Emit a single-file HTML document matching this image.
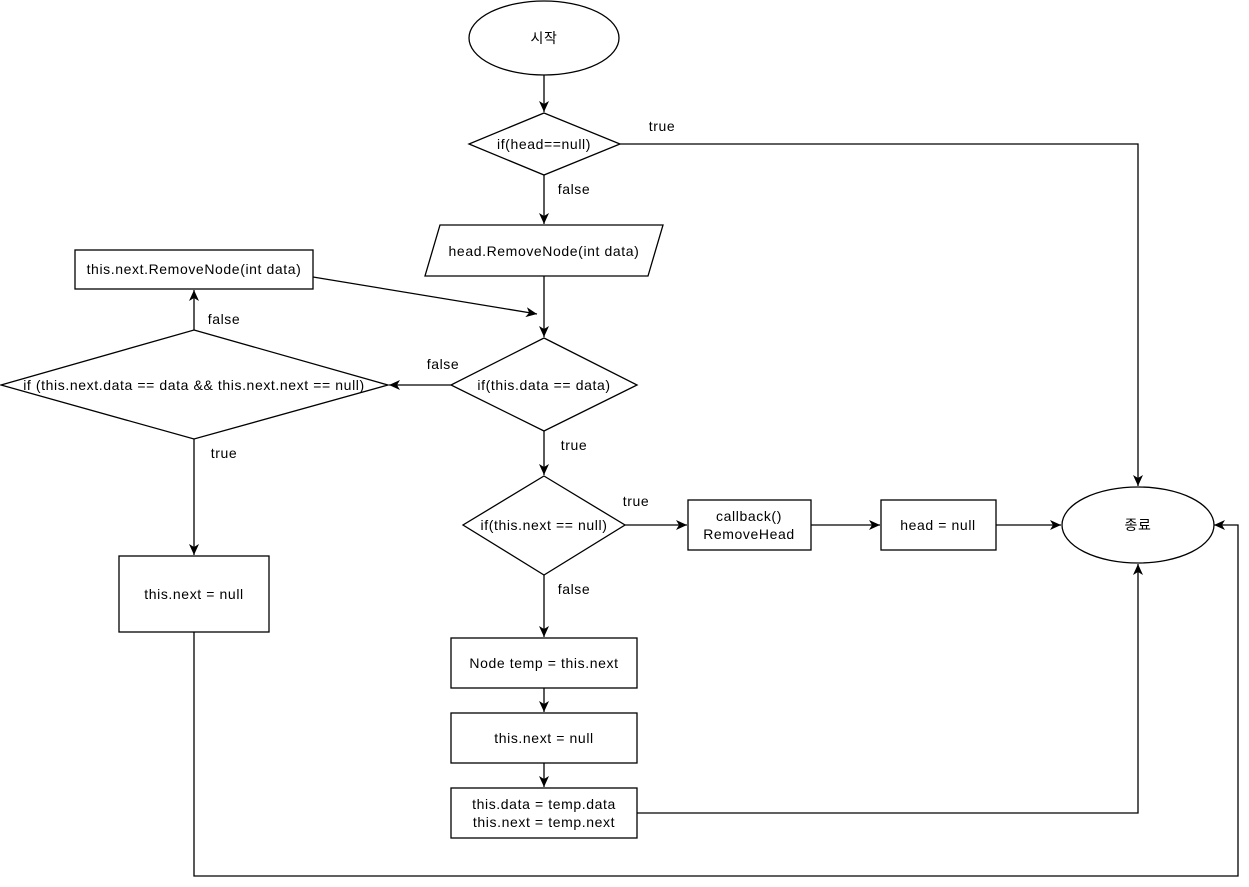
<!DOCTYPE html>
<html><head><meta charset="utf-8"><style>
html,body{margin:0;padding:0;background:#fff;}
svg{display:block;}
text{font-family:"Liberation Sans","Noto Sans CJK KR",sans-serif;font-size:14px;letter-spacing:0.6px;fill:#000;}
</style></head><body>
<svg width="1249" height="887" viewBox="0 0 1249 887" xmlns="http://www.w3.org/2000/svg">
<defs><marker id="a" markerWidth="12" markerHeight="12" refX="11" refY="6" orient="auto" markerUnits="userSpaceOnUse"><path d="M0,1 L11,6 L0,11 L3,6 Z" fill="#000"/></marker></defs>
<g fill="#fff" stroke="#000" stroke-width="1.3">
<ellipse cx="544" cy="38" rx="75" ry="37"/>
<polygon points="544,113 620,144 544,175 469,144"/>
<polygon points="440,225 663,225 648,276 425,276"/>
<rect x="75" y="250" width="238" height="39"/>
<polygon points="544,338 637,385 544,431 451,385"/>
<polygon points="194,330 388,385 194,439 1,385"/>
<rect x="119" y="556" width="150" height="76"/>
<polygon points="544,476 625,525 544,575 463,525"/>
<rect x="688" y="500" width="123" height="50"/>
<rect x="881" y="500" width="115" height="50"/>
<ellipse cx="1138" cy="525" rx="76" ry="38"/>
<rect x="451" y="638" width="186" height="50"/>
<rect x="451" y="713" width="186" height="50"/>
<rect x="451" y="788" width="186" height="50"/>
</g>
<g fill="none" stroke="#000" stroke-width="1.3" marker-end="url(#a)">
<path d="M544,75 L544,112"/>
<path d="M620,144 L1138,144 L1138,486"/>
<path d="M544,175 L544,224"/>
<path d="M544,276 L544,337"/>
<path d="M313,277 L537,314"/>
<path d="M451,385 L389,385"/>
<path d="M194,330 L194,290"/>
<path d="M194,439 L194,555"/>
<path d="M194,632 L194,876 L1238,876 L1238,525 L1214,525"/>
<path d="M544,431 L544,475"/>
<path d="M625,525 L687,525"/>
<path d="M811,525 L880,525"/>
<path d="M996,525 L1061,525"/>
<path d="M544,575 L544,637"/>
<path d="M544,688 L544,712"/>
<path d="M544,763 L544,787"/>
<path d="M637,813 L1138,813 L1138,564"/>
</g>
<g text-anchor="middle">
<text x="544" y="43">시작</text>
<text x="544" y="149">if(head==null)</text>
<text x="544" y="256">head.RemoveNode(int data)</text>
<text x="194" y="274">this.next.RemoveNode(int data)</text>
<text x="544" y="390">if(this.data == data)</text>
<text x="194" y="390">if (this.next.data == data &amp;&amp; this.next.next == null)</text>
<text x="194" y="599">this.next = null</text>
<text x="544" y="530">if(this.next == null)</text>
<text x="749" y="521">callback()</text>
<text x="749" y="539">RemoveHead</text>
<text x="938" y="530">head = null</text>
<text x="1138" y="530">종료</text>
<text x="544" y="668">Node temp = this.next</text>
<text x="544" y="743">this.next = null</text>
<text x="544" y="809">this.data = temp.data</text>
<text x="544" y="827">this.next = temp.next</text>
<text x="662" y="131">true</text>
<text x="574" y="194">false</text>
<text x="443" y="369">false</text>
<text x="224" y="324">false</text>
<text x="224" y="458">true</text>
<text x="574" y="450">true</text>
<text x="636" y="506">true</text>
<text x="574" y="594">false</text>
</g>
</svg>
</body></html>
